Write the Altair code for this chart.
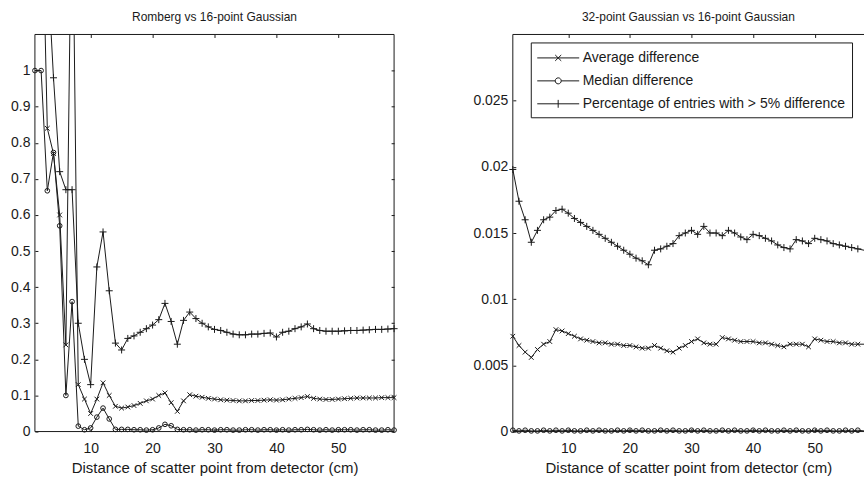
import altair as alt
import pandas as pd

# ---------------- data ----------------
x_cm = list(range(1, 60))

left_avg = [1.8, 1.6, 0.84, 0.77, 0.60, 0.24, 1.6, 0.13, 0.09, 0.05,
            0.09, 0.135, 0.10, 0.07, 0.065, 0.068, 0.072, 0.078, 0.085, 0.09,
            0.10, 0.107, 0.08, 0.056, 0.085, 0.102, 0.098, 0.095, 0.092, 0.09,
            0.088, 0.087, 0.086, 0.085, 0.085, 0.086, 0.086, 0.087, 0.088, 0.087,
            0.088, 0.09, 0.092, 0.094, 0.097, 0.092, 0.09, 0.089, 0.089, 0.09,
            0.091, 0.092, 0.093, 0.093, 0.093, 0.093, 0.094, 0.094, 0.094]

left_median = [1.0, 1.0, 0.667, 0.773, 0.57, 0.10, 0.36, 0.015, 0.005, 0.01,
               0.04, 0.065, 0.035, 0.006, 0.006, 0.006, 0.005, 0.005, 0.004, 0.005,
               0.01, 0.02, 0.016, 0.006, 0.005, 0.005, 0.004, 0.005, 0.005, 0.004,
               0.005, 0.005, 0.004, 0.004, 0.005, 0.005, 0.004, 0.005, 0.005, 0.004,
               0.005, 0.004, 0.005, 0.005, 0.006, 0.005, 0.004, 0.005, 0.004, 0.005,
               0.005, 0.005, 0.004, 0.005, 0.005, 0.004, 0.004, 0.005, 0.004]

left_pct = [1.5, 1.45, 1.3, 0.98, 0.72, 0.67, 0.67, 0.30, 0.20, 0.13,
            0.456, 0.553, 0.39, 0.245, 0.226, 0.258, 0.265, 0.275, 0.285, 0.295,
            0.31, 0.355, 0.305, 0.242, 0.308, 0.331, 0.313, 0.30, 0.29, 0.283,
            0.28, 0.275, 0.27, 0.268, 0.268, 0.27, 0.27, 0.272, 0.273, 0.262,
            0.275, 0.278, 0.285, 0.29, 0.298, 0.285, 0.28, 0.278, 0.278, 0.278,
            0.279, 0.28, 0.28, 0.281, 0.282, 0.283, 0.283, 0.284, 0.285]

right_avg = [0.0072, 0.0065, 0.0060, 0.0056, 0.0062, 0.0066, 0.0068, 0.0077, 0.0076, 0.0074,
             0.0072, 0.0070, 0.0069, 0.0068, 0.0067, 0.0067, 0.0066, 0.0066, 0.0065, 0.0065,
             0.0064, 0.0063, 0.0063, 0.0065, 0.0063, 0.0061, 0.0060, 0.0063, 0.0065, 0.0068,
             0.0070, 0.0067, 0.0066, 0.0066, 0.0071, 0.0070, 0.0069, 0.0068, 0.0068, 0.0068,
             0.0067, 0.0067, 0.0066, 0.0065, 0.0064, 0.0066, 0.0066, 0.0066, 0.0064, 0.0070,
             0.0069, 0.0068, 0.0068, 0.0067, 0.0067, 0.0066, 0.0066, 0.0066, 0.0065]

right_median = [0.0001, 0.00005, 0.0001, 0.00005, 0.00005, 0.0001, 0.00005, 0.0001, 0.00005, 0.0001,
                0.00005, 0.00005, 0.0001, 0.00005, 0.0001, 0.00005, 0.00005, 0.0001, 0.00005, 0.0001,
                0.00005, 0.0001, 0.00005, 0.00005, 0.0001, 0.00005, 0.0001, 0.00005, 0.00005, 0.0001,
                0.00005, 0.0001, 0.00005, 0.00005, 0.0001, 0.00005, 0.0001, 0.00005, 0.00005, 0.0001,
                0.00005, 0.0001, 0.00005, 0.00005, 0.0001, 0.00005, 0.0001, 0.00005, 0.00005, 0.0001,
                0.00005, 0.0001, 0.00005, 0.00005, 0.0001, 0.00005, 0.0001, 0.00005, 0.00005]

right_pct = [0.0198, 0.0174, 0.0160, 0.0143, 0.0152, 0.0160, 0.0162, 0.0167, 0.0168, 0.0165,
             0.0161, 0.0158, 0.0155, 0.0152, 0.0149, 0.0146, 0.0143, 0.0140, 0.0137, 0.0134,
             0.0131, 0.0129, 0.0126, 0.0137, 0.0138, 0.0140, 0.0142, 0.0148, 0.0150, 0.0152,
             0.0149, 0.0155, 0.0150, 0.0150, 0.0148, 0.0152, 0.0150, 0.0147, 0.0145, 0.0149,
             0.0148, 0.0146, 0.0144, 0.0141, 0.0139, 0.0138, 0.0145, 0.0144, 0.0142, 0.0146,
             0.0145, 0.0144, 0.0142, 0.0141, 0.0140, 0.0139, 0.0138, 0.0137, 0.0136]

series_names = ["Average difference", "Median difference",
                "Percentage of entries with > 5% difference"]

left_yticks = [0, 0.1, 0.2, 0.3, 0.4, 0.5, 0.6, 0.7, 0.8, 0.9, 1.0]
right_yticks = [0, 0.005, 0.01, 0.015, 0.02, 0.025]
x_ticks = [10, 20, 30, 40, 50]

titles = ["Romberg vs 16-point Gaussian", "32-point Gaussian vs 16-point Gaussian"]
x_title = "Distance of scatter point from detector (cm)"


def long_df(avg, med, pct):
    rows = []
    for name, vals in zip(series_names, [avg, med, pct]):
        for x, v in zip(x_cm, vals):
            rows.append({"x": x, "v": v, "series": name})
    return pd.DataFrame(rows)


FONT = "Liberation Sans"
INK = "#1a1a1a"

X_PATH = "M-1,-1L1,1M-1,1L1,-1"
PLUS_PATH = "M-1,0L1,0M0,-1L0,1"
marker_shapes = [X_PATH, "circle", PLUS_PATH]
marker_sizes = [22, 22, 49]

legend_paths = [
    "M-1,0L3.67,0M1.0,-0.33L1.67,0.33M1.0,0.33L1.67,-0.33",
    "M-1,0L1,0M1.67,0L3.67,0M1.67,0A0.33,0.33 0 1,1 1,0A0.33,0.33 0 1,1 1.67,0",
    "M-1,0L3.67,0M1.33,-0.44L1.33,0.44",
]

tick_common = dict(domain=False, grid=False, tickSize=3, offset=-3,
                   tickColor=INK, tickWidth=1)

frame_row = pd.DataFrame({"k": [0]})


def panel(df, ymax, yticks, title, xmax, width, with_legend, right_side):
    xs = alt.Scale(domain=[1, xmax], nice=False, zero=False)
    ys = alt.Scale(domain=[0, ymax], nice=False, zero=False)
    base = alt.Chart(df)

    lines = (base.transform_filter(alt.datum.x <= xmax)
             .mark_line(color=INK, strokeWidth=1, clip=True).encode(
        x=alt.X("x:Q", scale=xs, axis=alt.Axis(
            values=x_ticks, title=x_title, labelFont=FONT, labelFontSize=14,
            labelColor=INK, labelPadding=10, titleFont=FONT, titleFontSize=15,
            titleFontWeight="normal", titleColor=INK, titlePadding=5, **tick_common)),
        y=alt.Y("v:Q", scale=ys, axis=alt.Axis(
            values=yticks, format="~g", title=None, labelFont=FONT, labelFontSize=14,
            labelColor=INK, labelPadding=5, **tick_common)),
        detail="series:N",
    ))

    layers = [lines]
    for i, (name, shp, sz) in enumerate(zip(series_names, marker_shapes, marker_sizes)):
        if i == 0:
            ex = alt.X("x:Q", scale=xs, axis=alt.Axis(orient="top", values=x_ticks,
                                                      labels=False, title=None, **tick_common))
            if right_side:
                ey = alt.Y("v:Q", scale=ys, axis=alt.Axis(orient="right", values=yticks,
                                                          labels=False, title=None, **tick_common))
            else:
                ey = alt.Y("v:Q", scale=ys, axis=None)
        else:
            ex = alt.X("x:Q", scale=xs, axis=None)
            ey = alt.Y("v:Q", scale=ys, axis=None)
        pts = (base.transform_filter(alt.datum.series == name)
               .transform_filter(alt.datum.v <= ymax)
               .transform_filter(alt.datum.x < xmax if not right_side else alt.datum.x <= xmax)
               .mark_point(shape=shp, size=sz, filled=False, color=INK,
                           strokeWidth=1, opacity=1, clip=False)
               .encode(x=ex, y=ey))
        layers.append(pts)

    # frame (box) lines through the panel's own scales
    fr = alt.Chart(frame_row).mark_rule(color=INK, strokeWidth=1)
    layers.append(fr.encode(y=alt.YDatum(ymax, axis=None)))
    layers.append(fr.encode(y=alt.YDatum(0, axis=None)))
    layers.append(fr.encode(x=alt.XDatum(1, axis=None)))
    if right_side:
        layers.append(fr.encode(x=alt.XDatum(xmax, axis=None)))

    if with_legend:
        leg = (base.transform_filter("false")
               .mark_point(filled=False, color=INK, strokeWidth=1, opacity=1)
               .encode(
                   x=alt.X("x:Q", scale=xs, axis=None),
                   y=alt.Y("v:Q", scale=ys, axis=None),
                   shape=alt.Shape("series:N",
                                   scale=alt.Scale(domain=series_names, range=legend_paths),
                                   legend=alt.Legend(
                                       title=None, orient="none", legendX=18, legendY=8,
                                       direction="vertical", symbolSize=324,
                                       symbolStrokeWidth=1, symbolStrokeColor=INK,
                                       symbolFillColor="transparent", symbolOpacity=1,
                                       labelFont=FONT, labelFontSize=14, labelColor=INK,
                                       labelOffset=27, labelLimit=500, rowPadding=6,
                                       padding=6, strokeColor=INK, fillColor="white"))))
        layers.append(leg)

    return (alt.layer(*layers)
            .resolve_axis(x="independent", y="independent")
            .properties(width=width, height=398,
                        title=alt.TitleParams(text=title, font=FONT, fontSize=12,
                                              fontWeight="normal", color=INK, offset=10,
                                              frame="group", anchor="middle")))


left = panel(long_df(left_avg, left_median, left_pct), 1.1, left_yticks, titles[0],
             59, 360, False, True)
right = panel(long_df(right_avg, right_median, right_pct), 0.03, right_yticks, titles[1],
              58, 352, True, False)

chart = (alt.hconcat(left, right, spacing=72)
         .resolve_scale(shape="independent")
         .properties(padding={"left": 10, "top": 10, "right": 0, "bottom": 0},
                     background="white")
         .configure_view(stroke="transparent"))

chart.save("out.html", embed_options={"renderer": "svg", "actions": False})
